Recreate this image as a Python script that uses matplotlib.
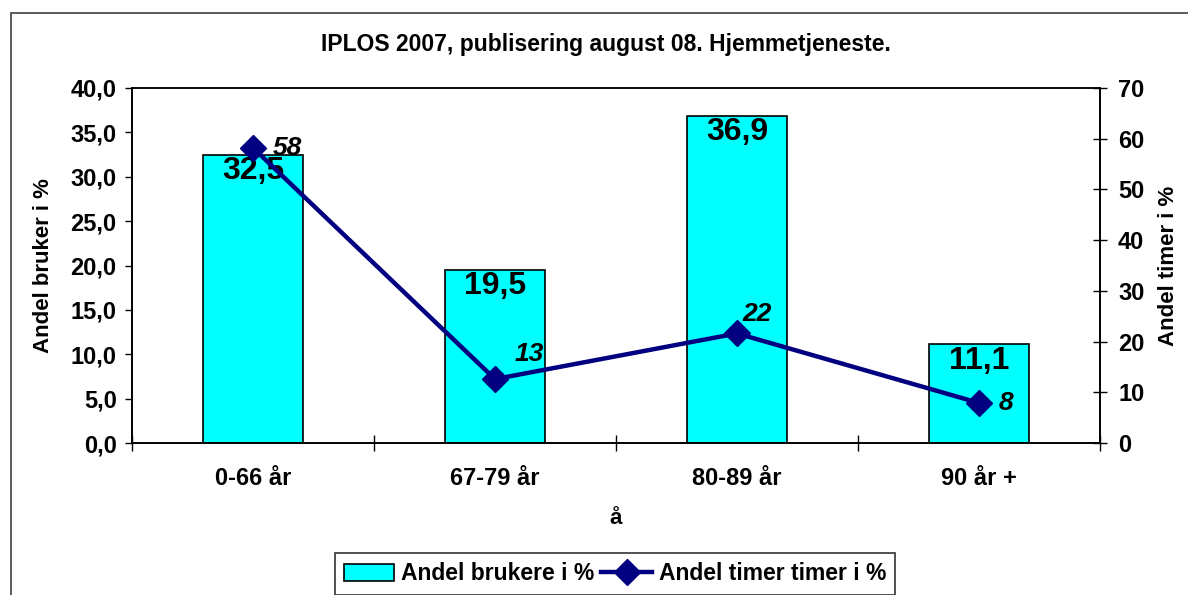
import matplotlib.pyplot as plt
from matplotlib.patches import Rectangle
from matplotlib.ticker import FuncFormatter, FixedLocator
import numpy as np

plt.rcParams['font.family'] = ['Liberation Sans', 'DejaVu Sans']
plt.rcParams['font.weight'] = 'bold'

categories = ["0-66 år", "67-79 år", "80-89 år", "90 år +"]
andel_brukere = [32.5, 19.5, 36.9, 11.1]
andel_timer = [58.2, 12.6, 21.6, 7.9]
timer_labels = ["58", "13", "22", "8"]
left_ticks = [0, 5, 10, 15, 20, 25, 30, 35, 40]
right_ticks = [0, 10, 20, 30, 40, 50, 60, 70]

W, H = 1188, 595
fig = plt.figure(figsize=(W / 100, H / 100), dpi=100)
ax = fig.add_axes([132 / W, 1 - 443 / H, 968 / W, 355 / H])
ax2 = ax.twinx()

# outer chart frame (cut at right and bottom like the reference)
fig.patches.append(Rectangle((11 / W, -0.2), 1.2, 1 - 13 / H + 0.2,
                             transform=fig.transFigure, fill=False,
                             edgecolor="#404040", linewidth=1.2))

x = np.arange(len(categories)) + 0.5
ax.bar(x, andel_brukere, width=0.41, color="#00FFFF", edgecolor="black",
       linewidth=1.2, label="Andel brukere i %", zorder=2)
ax.set_xlim(0, len(categories))
ax.set_ylim(0, 40)

for xi, v in zip(x, andel_brukere):
    ax.annotate(f"{v:.1f}".replace(".", ","), (xi, v), xytext=(0, -1),
                textcoords="offset points", ha="center", va="top",
                fontsize=23, fontweight="bold", zorder=5)

ax2.plot(x, andel_timer, color="#000080", linewidth=3.2, marker="D",
         markersize=13, label="Andel timer timer i %", zorder=3)
ax2.set_ylim(0, 70)
offsets = [(14, 0), (14, 18), (4, 14), (14, 0)]
for xi, v, lab, off in zip(x, andel_timer, timer_labels, offsets):
    ax2.annotate(lab, (xi, v), xytext=off, textcoords="offset points",
                 ha="left", va="center", fontsize=19, fontweight="bold",
                 fontstyle="italic")

ax.yaxis.set_major_locator(FixedLocator(left_ticks))
ax.yaxis.set_major_formatter(FuncFormatter(lambda v, p: f"{v:.1f}".replace(".", ",")))
ax2.yaxis.set_major_locator(FixedLocator(right_ticks))

ax.set_xticks(x)
ax.set_xticklabels(categories)
ax.set_xticks(np.arange(len(categories) + 1), minor=True)
ax.tick_params(axis="x", which="major", length=0, pad=17, labelsize=17)
ax.tick_params(axis="x", which="minor", direction="inout", length=12, width=1)
ax.tick_params(axis="y", direction="out", length=5, width=1, pad=6, labelsize=17)
ax2.tick_params(axis="y", direction="inout", length=10, width=1, pad=8, labelsize=17)

for a in (ax, ax2):
    for s in a.spines.values():
        s.set_linewidth(1.2)
        s.set_color("black")
ax.spines["top"].set_color("#404040")

ax.set_ylabel("Andel bruker i %", fontsize=16, fontweight="bold", labelpad=12)
ax2.set_ylabel("Andel timer i %", fontsize=16, fontweight="bold", labelpad=10)
ax.set_xlabel("å", fontsize=16, fontweight="bold", labelpad=13)

fig.text(606 / W, 1 - 45 / H, "IPLOS 2007, publisering august 08. Hjemmetjeneste.",
         ha="center", va="center", fontsize=16.5, fontweight="bold")

h1, l1 = ax.get_legend_handles_labels()
h2, l2 = ax2.get_legend_handles_labels()
leg = fig.legend(h1 + h2, l1 + l2, loc="center",
                 bbox_to_anchor=(615 / W, 1 - 574 / H), ncol=2, fontsize=16.5,
                 frameon=True, fancybox=False, edgecolor="black",
                 handlelength=2.2, handletextpad=0.3, columnspacing=0.3,
                 borderpad=0.4)
leg.get_frame().set_linewidth(1.2)
for t in leg.get_texts():
    t.set_fontweight("bold")

fig.savefig("out.png", dpi=100)
